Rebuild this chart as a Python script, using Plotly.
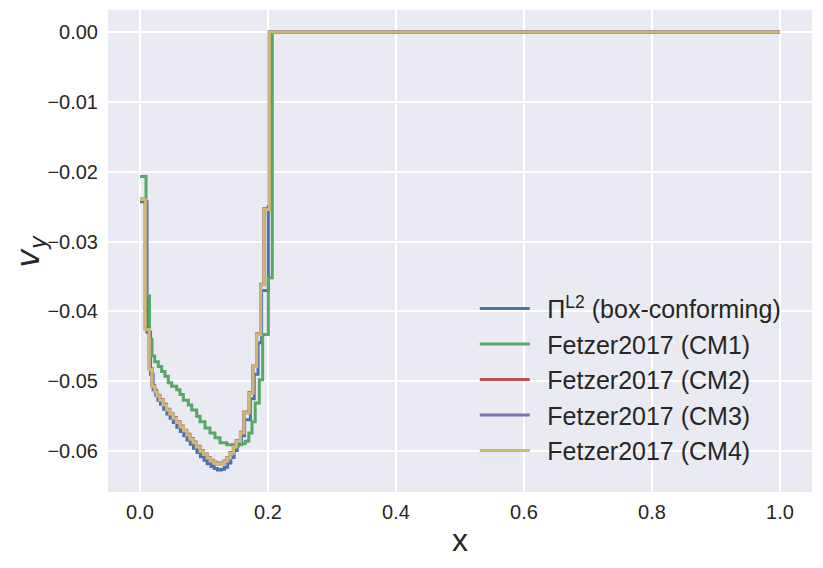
import plotly.graph_objects as go

# ---- data ----
# Pi^L2 (box-conforming)
x_pi = [0.000, 0.011, 0.0165, 0.0205, 0.0245, 0.028, 0.032, 0.037, 0.042, 0.047,
        0.052, 0.0575, 0.063, 0.0685, 0.0735, 0.0785, 0.0835, 0.089, 0.0945, 0.100,
        0.105, 0.111, 0.116, 0.121, 0.127, 0.132, 0.137, 0.142, 0.147, 0.152,
        0.1585, 0.1635, 0.1725, 0.1785, 0.1845, 0.190, 0.2005, 0.2035, 1.0]
v_pi = [-0.0243, -0.0430, -0.0490, -0.0512, -0.0520, -0.0527, -0.0533, -0.0540, -0.0547, -0.0553,
        -0.0559, -0.0566, -0.0572, -0.0578, -0.0584, -0.0590, -0.0596, -0.0602, -0.0608, -0.0613,
        -0.0618, -0.0622, -0.0625, -0.0627, -0.0626, -0.0623, -0.0617, -0.0609, -0.0599, -0.0590,
        -0.0578, -0.0555, -0.0525, -0.0490, -0.0445, -0.0370, -0.0250, 0.0, 0.0]

# Fetzer2017 (CM1)
x_cm1 = [0.000, 0.0094, 0.0148, 0.0188, 0.0230, 0.0286, 0.0339, 0.0390, 0.0442, 0.0495,
         0.0573, 0.0625, 0.0677, 0.0755, 0.0808, 0.0886, 0.0938, 0.1016, 0.1094, 0.1172,
         0.1250, 0.1355, 0.1458, 0.1536, 0.1590, 0.1645, 0.1700, 0.1750, 0.1800, 0.1864,
         0.1917, 0.2005, 0.2067, 1.0]
v_cm1 = [-0.0207, -0.0378, -0.0440, -0.0464, -0.0472, -0.0479, -0.0486, -0.0493, -0.0502, -0.0507,
         -0.0512, -0.0519, -0.0527, -0.0534, -0.0541, -0.0550, -0.0558, -0.0567, -0.0574, -0.0581,
         -0.0588, -0.0591, -0.0593, -0.0591, -0.0589, -0.0586, -0.0574, -0.0558, -0.0531, -0.0498,
         -0.0433, -0.0352, 0.0, 0.0]

# Fetzer2017 (CM4); CM2 and CM3 lie on top of it
x_cm4 = [0.000, 0.0083, 0.0145, 0.0188, 0.0230, 0.0266, 0.031, 0.036, 0.0415, 0.0465,
         0.0515, 0.057, 0.0625, 0.068, 0.073, 0.078, 0.083, 0.088, 0.094, 0.099,
         0.105, 0.110, 0.115, 0.120, 0.126, 0.131, 0.136, 0.141, 0.146, 0.1505,
         0.157, 0.1625, 0.1708, 0.1766, 0.1823, 0.1886, 0.1938, 0.2021, 1.0]
v_cm4 = [-0.0240, -0.0426, -0.0483, -0.0507, -0.0515, -0.0521, -0.0527, -0.0534, -0.0541, -0.0547,
         -0.0553, -0.0559, -0.0565, -0.0571, -0.0577, -0.0583, -0.0588, -0.0594, -0.0600, -0.0605,
         -0.0610, -0.0614, -0.0617, -0.0619, -0.0618, -0.0615, -0.0610, -0.0603, -0.0594, -0.0586,
         -0.0574, -0.0545, -0.0517, -0.0479, -0.0433, -0.0362, -0.0254, 0.0, 0.0]

x_cm2 = [0.000, 0.0082, 0.0144, 0.0187, 0.0229, 0.0265, 0.031, 0.036, 0.0414, 0.0464,
         0.0514, 0.0569, 0.0624, 0.0679, 0.0729, 0.0779, 0.0829, 0.0879, 0.0939, 0.0989,
         0.1049, 0.1099, 0.1149, 0.1199, 0.1259, 0.1309, 0.1359, 0.1409, 0.1459, 0.1503,
         0.1568, 0.1622, 0.1705, 0.1763, 0.1820, 0.1883, 0.1935, 0.2020, 1.0]
v_cm2 = [-0.0239, -0.0425, -0.0482, -0.0506, -0.0514, -0.0520, -0.0526, -0.0533, -0.0540, -0.0546,
         -0.0552, -0.0558, -0.0564, -0.0570, -0.0576, -0.0582, -0.0587, -0.0593, -0.0599, -0.0604,
         -0.0609, -0.0613, -0.0616, -0.0618, -0.0617, -0.0614, -0.0609, -0.0602, -0.0593, -0.0585,
         -0.0573, -0.0544, -0.0516, -0.0478, -0.0432, -0.0361, -0.0253, 0.0, 0.0]
x_cm3 = x_cm4
v_cm3 = v_cm4

x_ticks = [0.0, 0.2, 0.4, 0.6, 0.8, 1.0]
y_ticks = [0.00, -0.01, -0.02, -0.03, -0.04, -0.05, -0.06]

series = [
    ("Π<sup>L2</sup> (box-conforming)", x_pi, v_pi, "#4C72B0"),
    ("Fetzer2017 (CM1)", x_cm1, v_cm1, "#55A868"),
    ("Fetzer2017 (CM2)", x_cm2, v_cm2, "#C44E52"),
    ("Fetzer2017 (CM3)", x_cm3, v_cm3, "#8172B2"),
    ("Fetzer2017 (CM4)", x_cm4, v_cm4, "#CCB974"),
]

FONT = "Liberation Sans, Arial, sans-serif"

fig = go.Figure()
for i, (name, xs, vs, col) in enumerate(series):
    fig.add_trace(go.Scatter(
        x=xs, y=vs, mode="lines", name="\u2002" + name,
        line=dict(color=col, width=3, shape="hv"),
        legendgroup=f"g{i}",
    ))

# page body adds an 8px margin, so the figure is 16px smaller than the window
fig.update_layout(
    width=807, height=552,
    margin=dict(l=100, r=3, t=2, b=68),
    paper_bgcolor="white",
    plot_bgcolor="#EAEAF2",
    font=dict(family=FONT, color="#262626", size=20),
    showlegend=True,
    legend=dict(
        x=0.521, y=0.428, xanchor="left", yanchor="top",
        bgcolor="rgba(0,0,0,0)", borderwidth=0,
        font=dict(family=FONT, size=25, color="#262626"),
        traceorder="grouped", tracegroupgap=0,
        itemwidth=50,
    ),
    annotations=[dict(
        text="<i>v</i><sub><i>y</i></sub>", textangle=-90,
        xref="paper", yref="paper", x=-0.111, y=0.5,
        xanchor="center", yanchor="middle", showarrow=False,
        font=dict(family="DejaVu Sans", size=32, color="#262626"),
    )],
)
fig.update_xaxes(
    range=[-0.05, 1.05], tickvals=x_ticks, tickformat=".1f",
    showgrid=True, gridcolor="white", gridwidth=1.6, zeroline=False,
    showline=False, ticks="", ticklabelstandoff=6, automargin=False,
    tickfont=dict(family=FONT, size=20, color="#262626"),
    title=dict(text="x", font=dict(family=FONT, size=32, color="#262626"), standoff=6),
)
fig.update_yaxes(
    range=[-0.06585, 0.00314], tickvals=y_ticks, tickformat=".2f",
    showgrid=True, gridcolor="white", gridwidth=1.6, zeroline=False,
    showline=False, ticks="", ticklabelstandoff=9, automargin=False,
    tickfont=dict(family=FONT, size=20, color="#262626"),
)

fig.write_html("out.html")
